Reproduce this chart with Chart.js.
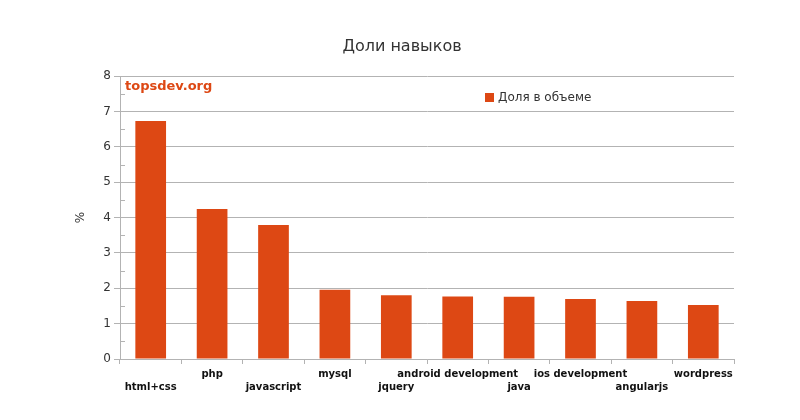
<!DOCTYPE html>
<html>
<head>
<meta charset="utf-8">
<script src="https://cdn.jsdelivr.net/npm/chart.js@4"></script>
<style>
	body { margin: 0; background: #fff; }
</style>
</head>
<body>
<canvas id="SkillChart" width="800" height="420"></canvas>
<script>
const skills = ["html+css", "php", "javascript", "mysql", "jquery", "android development", "java", "ios development", "angularjs", "wordpress"];
const shares = [6.73, 4.24, 3.79, 1.96, 1.80, 1.77, 1.76, 1.70, 1.64, 1.53];
const series_label = "Доля в объеме";
const chart_title = "Доли навыков";
const watermark = "topsdev.org";

const BAR_COLOR = "#dd4814";
const GRID_COLOR = "#b3b3b3";
const FONT = "'DejaVu Sans', sans-serif";

// half-unit ticks drawn inside the plot, plus the watermark and the legend
const extras = {
	id: "extras",
	afterDraw(chart) {
		const ctx = chart.ctx;
		const area = chart.chartArea;
		const y = chart.scales.y;
		ctx.save();
		ctx.strokeStyle = GRID_COLOR;
		ctx.lineWidth = 1;
		for (let v = 0.5; v < y.max; v += 1) {
			const py = Math.round(y.getPixelForValue(v)) + 0.5;
			ctx.beginPath();
			ctx.moveTo(area.left, py);
			ctx.lineTo(area.left + 5, py);
			ctx.stroke();
		}

		ctx.fillStyle = BAR_COLOR;
		ctx.font = "bold 13px " + FONT;
		ctx.textBaseline = "middle";
		ctx.fillText(watermark, area.left + 5, area.top + 10);

		ctx.fillRect(485, 93, 9, 9);
		ctx.fillStyle = "#333";
		ctx.font = "12px " + FONT;
		ctx.fillText(series_label, 498, 98);
		ctx.restore();
	}
};

const context = document.getElementById("SkillChart").getContext("2d");
new Chart(context, {
	type: "bar",
	data: {
		labels: skills,
		datasets: [{
			label: series_label,
			data: shares,
			backgroundColor: BAR_COLOR,
			barPercentage: 0.5,
			categoryPercentage: 1
		}]
	},
	options: {
		responsive: false,
		animation: false,
		layout: { padding: { left: 70, right: 66, top: 0, bottom: 16 } },
		plugins: {
			legend: { display: false },
			tooltip: { enabled: false },
			title: {
				display: true,
				text: chart_title,
				color: "#333",
				font: { family: FONT, size: 16, weight: "normal" },
				padding: { top: 37, bottom: 20 }
			}
		},
		scales: {
			x: {
				afterFit: s => { s.height = 45; },
				border: { color: GRID_COLOR },
				grid: {
					offset: true,
					color: c => c.index === skills.length ? GRID_COLOR : "transparent",
					tickColor: GRID_COLOR,
					tickLength: 5
				},
				ticks: {
					autoSkip: false,
					maxRotation: 0,
					minRotation: 0,
					padding: 4,
					color: "#111",
					font: { family: FONT, size: 10, weight: "bold", lineHeight: 1.3 },
					callback: (v, i) => i % 2 === 0 ? ["", skills[i]] : [skills[i]]
				}
			},
			y: {
				min: 0,
				max: 8,
				afterFit: s => { s.width = 50; },
				border: { color: GRID_COLOR },
				grid: { color: GRID_COLOR, tickLength: 6 },
				ticks: {
					stepSize: 1,
					padding: 3,
					color: "#333",
					font: { family: FONT, size: 12 }
				},
				title: {
					display: true,
					text: "%",
					color: "#333",
					font: { family: FONT, size: 12 },
					padding: { top: 4, bottom: 0 }
				}
			}
		}
	},
	plugins: [extras]
});
</script>
</body>
</html>
